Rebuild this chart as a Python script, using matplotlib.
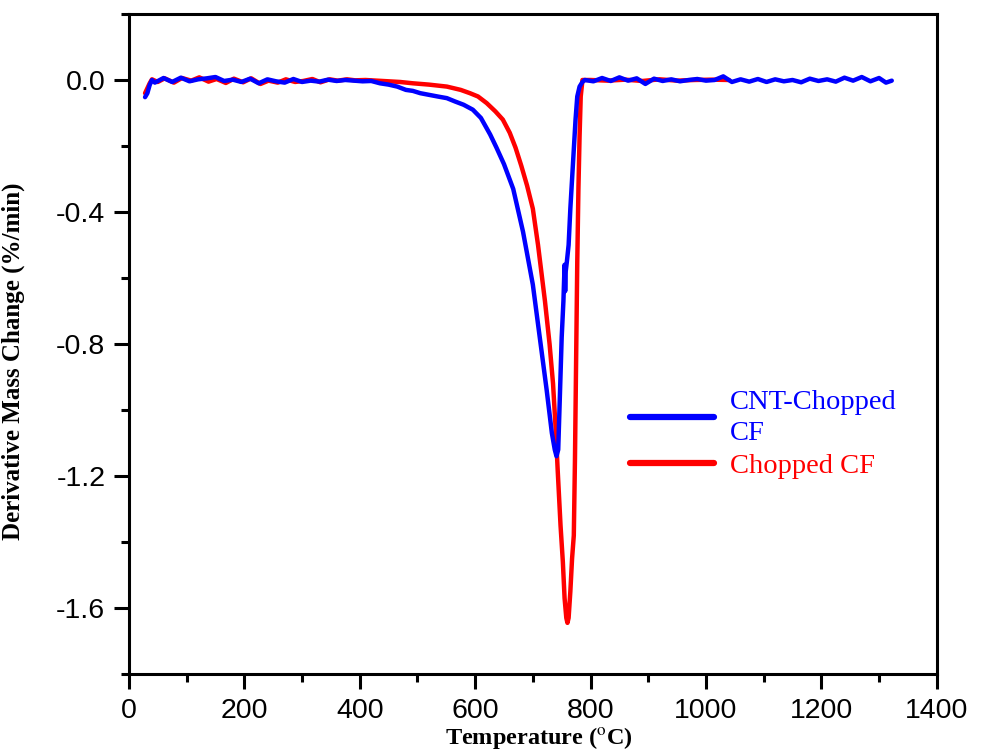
import matplotlib
matplotlib.use("Agg")
import matplotlib.pyplot as plt
from matplotlib.ticker import MultipleLocator, FuncFormatter

plt.rcParams["mathtext.fontset"] = "stix"

# ---- data ----
blue_T = [28, 32, 36, 40, 45, 60, 75, 90, 105, 120, 135, 150, 165, 180, 195, 210, 225, 240,
          255, 270, 285, 300, 315, 330, 345, 360, 375, 390, 405, 420, 435, 450, 465, 480,
          492, 505, 520, 535, 551, 565, 580, 596, 610, 626, 637, 650, 666, 683, 700, 712,
          724, 733, 738, 741, 744, 747, 750, 753, 755, 756, 757, 759, 762, 765, 768, 771,
          774, 777, 781, 786, 790, 805, 820, 835, 850, 865, 880, 895, 910, 925, 940, 955,
          970, 985, 1000, 1015, 1030, 1045, 1060, 1075, 1090, 1105, 1120, 1135, 1150, 1165,
          1180, 1195, 1210, 1225, 1240, 1255, 1270, 1285, 1300, 1312, 1322]
blue_v = [-0.052, -0.04, -0.015, 0.0, -0.008, 0.006, -0.006, 0.007, -0.004, 0.002, 0.005, 0.009,
          -0.003, 0.001, -0.006, 0.004, -0.01, 0.002, -0.004, -0.008, 0.003, -0.006, -0.002,
          -0.005, 0.001, -0.003, 0.0, -0.002, -0.004, -0.003, -0.01, -0.014, -0.02, -0.03,
          -0.033, -0.04, -0.045, -0.05, -0.055, -0.065, -0.075, -0.09, -0.115, -0.165, -0.205,
          -0.255, -0.33, -0.46, -0.62, -0.78, -0.94, -1.07, -1.12, -1.14, -1.12, -0.95, -0.78,
          -0.67, -0.56, -0.64, -0.58, -0.55, -0.50, -0.39, -0.30, -0.21, -0.12, -0.05, -0.02,
          -0.006, 0.0, -0.004, 0.006, -0.003, 0.008, -0.002, 0.005, -0.012, 0.004, -0.003,
          0.002, -0.004, 0.0, 0.003, -0.002, 0.0, 0.011, -0.006, 0.002, -0.005, 0.003, -0.006,
          0.002, -0.004, 0.0, -0.007, 0.004, -0.003, 0.002, -0.005, 0.007, -0.002, 0.009,
          -0.004, 0.006, -0.008, -0.002]

red_T = [28, 32, 36, 40, 50, 62, 78, 92, 108, 122, 138, 152, 168, 182, 198, 212, 228, 242,
         258, 272, 288, 302, 318, 332, 348, 362, 378, 392, 410, 430, 450, 470, 492, 520,
         551, 575, 591, 605, 620, 635, 648, 660, 670, 680, 690, 700, 709, 721, 729, 735, 740,
         743, 748, 752, 755, 758, 760, 762, 765, 768, 771, 773, 775, 777, 779, 781, 783,
         786, 800, 830, 860, 890, 920, 950, 980, 1010, 1040]
red_v = [-0.04, -0.025, -0.01, 0.002, -0.006, 0.005, -0.008, 0.006, -0.002, 0.008, -0.005,
         0.003, -0.009, 0.004, -0.007, 0.005, -0.012, -0.002, -0.008, 0.002, -0.006, -0.003,
         0.003, -0.007, 0.002, -0.002, 0.002, -0.001, 0.0, -0.002, -0.004, -0.006, -0.01,
         -0.014, -0.02, -0.03, -0.04, -0.05, -0.07, -0.095, -0.12, -0.16, -0.205, -0.26,
         -0.32, -0.39, -0.50, -0.67, -0.80, -0.92, -1.07, -1.18, -1.35, -1.46, -1.57, -1.63,
         -1.645, -1.63, -1.55, -1.45, -1.38, -1.15, -0.85, -0.55, -0.33, -0.17, -0.05, 0.0,
         0.0, -0.002, 0.001, -0.003, 0.002, -0.002, 0.0, 0.001, 0.0]

labels = ["CNT-Chopped\nCF", "Chopped CF"]

fig = plt.figure(figsize=(9.84, 7.52), dpi=100)
ax = fig.add_axes([0.131, 0.1037, 0.821, 0.8777])

l_red, = ax.plot(red_T, red_v, color="#ff0000", lw=3.2, zorder=2, solid_capstyle="round")
l_blue, = ax.plot(blue_T, blue_v, color="#0000ff", lw=3.2, zorder=3, solid_capstyle="round")

ax.set_xlim(0, 1400)
ax.set_ylim(-1.8, 0.2)
ax.xaxis.set_major_locator(MultipleLocator(200))
ax.xaxis.set_minor_locator(MultipleLocator(100))
ax.yaxis.set_major_locator(MultipleLocator(0.4))
ax.yaxis.set_minor_locator(MultipleLocator(0.2))
ax.yaxis.set_major_formatter(FuncFormatter(lambda v, p: f"{v:.1f}"))

for s in ax.spines.values():
    s.set_linewidth(2.2)
ax.tick_params(which="both", direction="out", width=2.2, top=False, right=False)
ax.tick_params(which="major", length=11, labelsize=20.5, pad=6)
ax.tick_params(which="minor", length=6)
for lab in ax.get_xticklabels() + ax.get_yticklabels():
    lab.set_family("Liberation Sans")

ax.set_xlabel(r"Temperature ($^{\mathrm{o}}$C)", fontsize=17.5, fontweight="bold",
              family="Liberation Serif")
ax.xaxis.set_label_coords(0.508, -0.077)
ax.set_ylabel("Derivative Mass Change (%/min)", fontsize=18, fontweight="bold",
              family="Liberation Serif")
ax.yaxis.set_label_coords(-0.128, 0.474)

leg = ax.legend([l_blue, l_red], labels, loc="center left", bbox_to_anchor=(0.603, 0.363),
                frameon=False, handlelength=2.95, handletextpad=0.55, borderpad=0,
                prop={"family": "Liberation Serif", "size": 20.5}, labelspacing=0.25)
for t, c in zip(leg.get_texts(), ["#0000ff", "#ff0000"]):
    t.set_color(c)
    t.set_linespacing(1.35)
for h in leg.legend_handles:
    h.set_linewidth(4.5)

fig.savefig("out.png", dpi=100)
